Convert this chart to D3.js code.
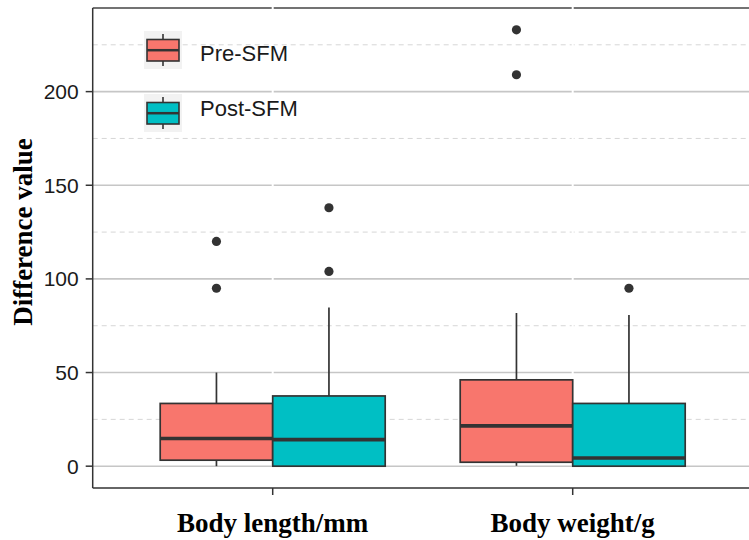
<!DOCTYPE html>
<html lang="en">
<head>
<meta charset="UTF-8">
<title>Difference value boxplot</title>
<script src="https://d3js.org/d3.v7.min.js"></script>
<style>
    body { margin: 0; background: #fff; }
    svg { display: block; }
    .tick-label { font-family: "Liberation Sans", Arial, sans-serif; font-size: 21px; fill: #1a1a1a; }
    .axis-title { font-family: "Liberation Serif", "Times New Roman", serif; font-weight: bold; font-size: 27px; fill: #000; }
    .legend-label { font-family: "Liberation Sans", Arial, sans-serif; font-size: 22px; fill: #1a1a1a; }
</style>
</head>
<body>
<div id="chart"></div>
<script>
    // categories and groups
    const categories = ["Body length/mm", "Body weight/g"];
    const groups = ["Pre-SFM", "Post-SFM"];
    const groupColors = ["#F8766D", "#00BFC4"];

    // box statistics per category, [Pre, Post]
    const lowerWhisker = [[0, 0], [0.2, 0]];
    const q1 = [[3.2, 0], [2.1, 0]];
    const medians = [[14.8, 14.2], [21.5, 4.4]];
    const q3 = [[33.5, 37.5], [46.1, 33.5]];
    const upperWhisker = [[50, 84.7], [81.8, 80.7]];
    const outliers = [[[95, 120], [104, 138]], [[209, 233], [95]]];

    const majorTicks = [0, 50, 100, 150, 200];
    const minorTicks = [25, 75, 125, 175, 225];

    const W = 749, H = 540;
    const panel = { left: 92.7, top: 8, bottom: 488 };

    const x = d3.scaleLinear().domain([0.4, 2.6]).range([panel.left, panel.left + 660]);
    const y = d3.scaleLinear().domain([-11.65, 244.65]).range([panel.bottom, panel.top]);
    const dodge = 0.375;

    const svg = d3.select("#chart").append("svg")
        .attr("width", W)
        .attr("height", H);

    // grid
    svg.selectAll(".minor").data(minorTicks).enter().append("line")
        .attr("x1", panel.left).attr("x2", W)
        .attr("y1", d => y(d)).attr("y2", d => y(d))
        .attr("stroke", "#d6d6d6").attr("stroke-width", 1)
        .attr("stroke-dasharray", "5,4");

    svg.selectAll(".major").data(majorTicks).enter().append("line")
        .attr("x1", panel.left).attr("x2", W)
        .attr("y1", d => y(d)).attr("y2", d => y(d))
        .attr("stroke", "#c6c6c6").attr("stroke-width", 1.6);

    // top border
    svg.append("line")
        .attr("x1", panel.left).attr("x2", W)
        .attr("y1", panel.top).attr("y2", panel.top)
        .attr("stroke", "#444").attr("stroke-width", 1.5);

    // white vertical gridlines at categories
    svg.selectAll(".vgrid").data(categories).enter().append("line")
        .attr("x1", (d, i) => x(i + 1)).attr("x2", (d, i) => x(i + 1))
        .attr("y1", panel.top - 1).attr("y2", panel.bottom)
        .attr("stroke", "#fff").attr("stroke-width", 2);

    // boxes
    categories.forEach((cat, ci) => {
        groups.forEach((g, gi) => {
            const x0 = x(ci + 1 + (gi - 1) * dodge);
            const x1 = x(ci + 1 + gi * dodge);
            const cx = (x0 + x1) / 2;
            const grp = svg.append("g");

            grp.append("line")
                .attr("x1", cx).attr("x2", cx)
                .attr("y1", y(upperWhisker[ci][gi])).attr("y2", y(q3[ci][gi]))
                .attr("stroke", "#333").attr("stroke-width", 1.7);
            grp.append("line")
                .attr("x1", cx).attr("x2", cx)
                .attr("y1", y(q1[ci][gi])).attr("y2", y(lowerWhisker[ci][gi]))
                .attr("stroke", "#333").attr("stroke-width", 1.7);

            grp.append("rect")
                .attr("x", x0).attr("width", x1 - x0)
                .attr("y", y(q3[ci][gi]))
                .attr("height", y(q1[ci][gi]) - y(q3[ci][gi]))
                .attr("fill", groupColors[gi])
                .attr("stroke", "#333").attr("stroke-width", 1.7);

            grp.append("line")
                .attr("x1", x0).attr("x2", x1)
                .attr("y1", y(medians[ci][gi])).attr("y2", y(medians[ci][gi]))
                .attr("stroke", "#333").attr("stroke-width", 3.6);

            grp.selectAll("circle").data(outliers[ci][gi]).enter().append("circle")
                .attr("cx", cx).attr("cy", d => y(d))
                .attr("r", 4.6).attr("fill", "#333");
        });
    });

    // axes
    svg.append("line")
        .attr("x1", panel.left).attr("x2", panel.left)
        .attr("y1", panel.top).attr("y2", panel.bottom)
        .attr("stroke", "#333").attr("stroke-width", 1.5);
    svg.append("line")
        .attr("x1", panel.left).attr("x2", W)
        .attr("y1", panel.bottom).attr("y2", panel.bottom)
        .attr("stroke", "#333").attr("stroke-width", 1.5);

    // y ticks
    svg.selectAll(".ytick").data(majorTicks).enter().append("line")
        .attr("x1", panel.left - 7).attr("x2", panel.left)
        .attr("y1", d => y(d)).attr("y2", d => y(d))
        .attr("stroke", "#333").attr("stroke-width", 1.5);
    svg.selectAll(".ylab").data(majorTicks).enter().append("text")
        .attr("class", "tick-label")
        .attr("x", panel.left - 14)
        .attr("y", d => y(d))
        .attr("dy", "0.35em")
        .attr("text-anchor", "end")
        .text(d => d);

    // x ticks
    svg.selectAll(".xtick").data(categories).enter().append("line")
        .attr("x1", (d, i) => x(i + 1)).attr("x2", (d, i) => x(i + 1))
        .attr("y1", panel.bottom).attr("y2", panel.bottom + 7)
        .attr("stroke", "#333").attr("stroke-width", 1.5);
    svg.selectAll(".xlab").data(categories).enter().append("text")
        .attr("class", "axis-title")
        .attr("x", (d, i) => x(i + 1))
        .attr("y", 532)
        .attr("text-anchor", "middle")
        .text(d => d);

    // y title
    svg.append("text")
        .attr("class", "axis-title")
        .attr("transform", "translate(32,232) rotate(-90)")
        .attr("text-anchor", "middle")
        .text("Difference value");

    // legend
    const legendY = [31, 94];
    groups.forEach((g, gi) => {
        const ky = legendY[gi];
        const lg = svg.append("g").attr("transform", `translate(144,${ky})`);
        lg.append("rect").attr("width", 38).attr("height", 38).attr("fill", "#f2f2f2");
        lg.append("line").attr("x1", 19).attr("x2", 19).attr("y1", 3).attr("y2", 35)
            .attr("stroke", "#333").attr("stroke-width", 1.6);
        lg.append("rect").attr("x", 3).attr("y", 8.5).attr("width", 32).attr("height", 21.5)
            .attr("fill", groupColors[gi]).attr("stroke", "#333").attr("stroke-width", 1.6);
        lg.append("line").attr("x1", 3).attr("x2", 35).attr("y1", 19.2).attr("y2", 19.2)
            .attr("stroke", "#333").attr("stroke-width", 2.5);
        lg.append("text").attr("class", "legend-label")
            .attr("x", 56).attr("y", gi === 0 ? 30 : 22)
            .text(g);
    });
</script>
</body>
</html>
